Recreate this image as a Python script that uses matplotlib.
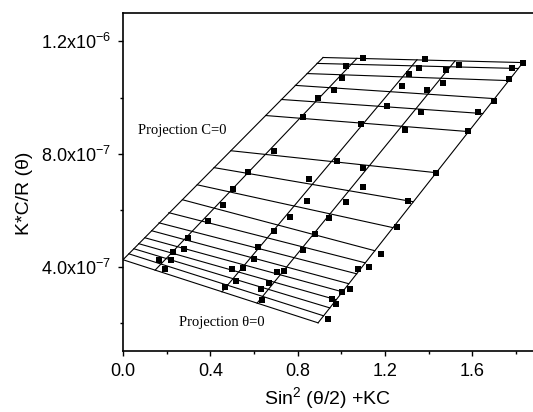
import matplotlib
matplotlib.use('Agg')
import matplotlib.pyplot as plt
from matplotlib.ticker import FixedLocator, MultipleLocator

plt.rcParams['font.family'] = ['Liberation Sans', 'DejaVu Sans']
plt.rcParams['mathtext.fontset'] = 'custom'
plt.rcParams['mathtext.rm'] = 'Liberation Sans'
plt.rcParams['mathtext.it'] = 'Liberation Sans:italic'
plt.rcParams['mathtext.bf'] = 'Liberation Sans:bold'

E7 = 1e-7  # y values below are in units of 1e-7

# constant-angle fit lines: from the C=0 line to the highest concentration
ang_x0 = [0.916, 0.888, 0.843, 0.789, 0.725, 0.653, 0.494, 0.417, 0.340,
          0.272, 0.210, 0.165, 0.131, 0.100, 0.072, 0.050, 0.027]
ang_y0 = [11.42, 11.21, 10.85, 10.43, 9.93, 9.36, 8.11, 7.51, 6.90,
          6.37, 5.91, 5.55, 5.27, 5.02, 4.81, 4.63, 4.45]
ang_x1 = [1.831, 1.810, 1.766, 1.701, 1.647, 1.582, 1.434, 1.329, 1.236,
          1.153, 1.109, 1.070, 1.033, 1.005, 0.976, 0.947, 0.918]
ang_y1 = [11.24, 11.03, 10.60, 9.96, 9.43, 8.79, 7.33, 6.30, 5.38,
          4.56, 4.13, 3.74, 3.39, 3.10, 2.82, 2.53, 2.25]

# theta = 0 extrapolation
th0_x = [0.0, 0.893]
th0_y = [4.24, 2.00]

# constant-concentration lines (first one = C=0 extrapolation)
conc_x0 = [0.0, 0.147, 0.453, 0.614, 0.893]
conc_y0 = [4.24, 3.87, 3.10, 2.70, 2.00]
conc_x1 = [0.916, 1.071, 1.346, 1.520, 1.831]
conc_y1 = [11.42, 11.39, 11.34, 11.30, 11.24]

# measured points, one list per concentration
c1_x = [1.100, 1.020, 1.001, 0.967, 0.894, 0.826, 0.691, 0.571, 0.505,
        0.457, 0.391, 0.299, 0.279, 0.228, 0.165, 0.218, 0.192]
c1_y = [11.41, 11.13, 10.70, 10.25, 9.99, 9.32, 8.10, 7.37, 6.74,
        6.18, 5.62, 5.00, 4.62, 4.50, 4.23, 4.23, 3.91]
c2_x = [1.383, 1.357, 1.311, 1.276, 1.207, 1.090, 0.981, 0.853, 0.841,
        0.765, 0.691, 0.620, 0.601, 0.548, 0.500, 0.517, 0.467]
c2_y = [11.37, 11.03, 10.82, 10.41, 9.69, 9.07, 7.76, 7.11, 6.34,
        5.74, 5.27, 4.68, 4.28, 3.94, 3.91, 3.49, 3.28]
c3_x = [1.538, 1.479, 1.464, 1.391, 1.364, 1.291, 1.098, 1.100, 1.021,
        0.943, 0.879, 0.826, 0.737, 0.704, 0.670, 0.632, 0.635]
c3_y = [11.17, 10.99, 10.50, 10.25, 9.49, 8.83, 7.50, 6.81, 6.28,
        5.71, 5.17, 4.58, 3.85, 3.82, 3.40, 3.20, 2.82]
c4_x = [1.833, 1.782, 1.767, 1.699, 1.627, 1.581, 1.433, 1.304, 1.256,
        1.181, 1.126, 1.077, 1.039, 1.001, 0.956, 0.975, 0.937]
c4_y = [11.23, 11.04, 10.64, 9.87, 9.48, 8.80, 7.32, 6.34, 5.41,
        4.46, 4.00, 3.91, 3.20, 3.08, 2.86, 2.68, 2.13]

xticks = [0.0, 0.4, 0.8, 1.2, 1.6]
xtick_labels = ['0.0', '0.4', '0.8', '1.2', '1.6']
yticks = [4e-7, 8e-7, 1.2e-6]
ytick_labels = [r'4.0x10$^{-7}$', r'8.0x10$^{-7}$', r'1.2x10$^{-6}$']

fig = plt.figure(figsize=(5.33, 4.12), dpi=100)
ax = fig.add_axes([123 / 533, 61 / 412, 410 / 533, 338 / 412])

# grid of fit lines
for x0, y0, x1, y1 in zip(ang_x0, ang_y0, ang_x1, ang_y1):
    ax.plot([x0, x1], [y0 * E7, y1 * E7], color='black', lw=0.8)
ax.plot(th0_x, [v * E7 for v in th0_y], color='black', lw=0.8)
for x0, y0, x1, y1 in zip(conc_x0, conc_y0, conc_x1, conc_y1):
    ax.plot([x0, x1], [y0 * E7, y1 * E7], color='black', lw=0.8)

# data points
for xs, ys in [(c1_x, c1_y), (c2_x, c2_y), (c3_x, c3_y), (c4_x, c4_y)]:
    ax.plot(xs, [v * E7 for v in ys], 's', color='black', ms=4.8, mew=0)

ax.text(0.069, 8.72 * E7, 'Projection C=0', family='Liberation Serif',
        fontsize=10.5, ha='left', va='baseline')
ax.text(0.256, 1.89 * E7, 'Projection θ=0', family='Liberation Serif',
        fontsize=10.5, ha='left', va='baseline')

ax.set_xlim(0, 1.877)
ax.set_ylim(1e-7, 1.3e-6)
ax.xaxis.set_major_locator(FixedLocator(xticks))
ax.set_xticklabels(xtick_labels)
ax.xaxis.set_minor_locator(MultipleLocator(0.2))
ax.yaxis.set_major_locator(FixedLocator(yticks))
ax.set_yticklabels(ytick_labels)
ax.yaxis.set_minor_locator(MultipleLocator(2e-7))

ax.tick_params(which='both', direction='out', width=1.0, labelsize=13,
               top=False, right=False)
ax.tick_params(which='major', length=3.8, pad=5)
ax.tick_params(which='minor', length=2.2)
for side in ['left', 'bottom', 'top']:
    ax.spines[side].set_linewidth(1.2)
ax.spines['right'].set_visible(False)

ax.set_xlabel('Sin$^{2}$ (θ/2) +KC', fontsize=14)
ax.xaxis.label.set_va('center')
ax.xaxis.set_label_coords(0.5, -0.14)
ax.set_ylabel('K*C/R (θ)', fontsize=14)
ax.yaxis.label.set_va('center')
ax.yaxis.set_label_coords(-0.24, 0.467)

fig.savefig('out.png', dpi=100)
